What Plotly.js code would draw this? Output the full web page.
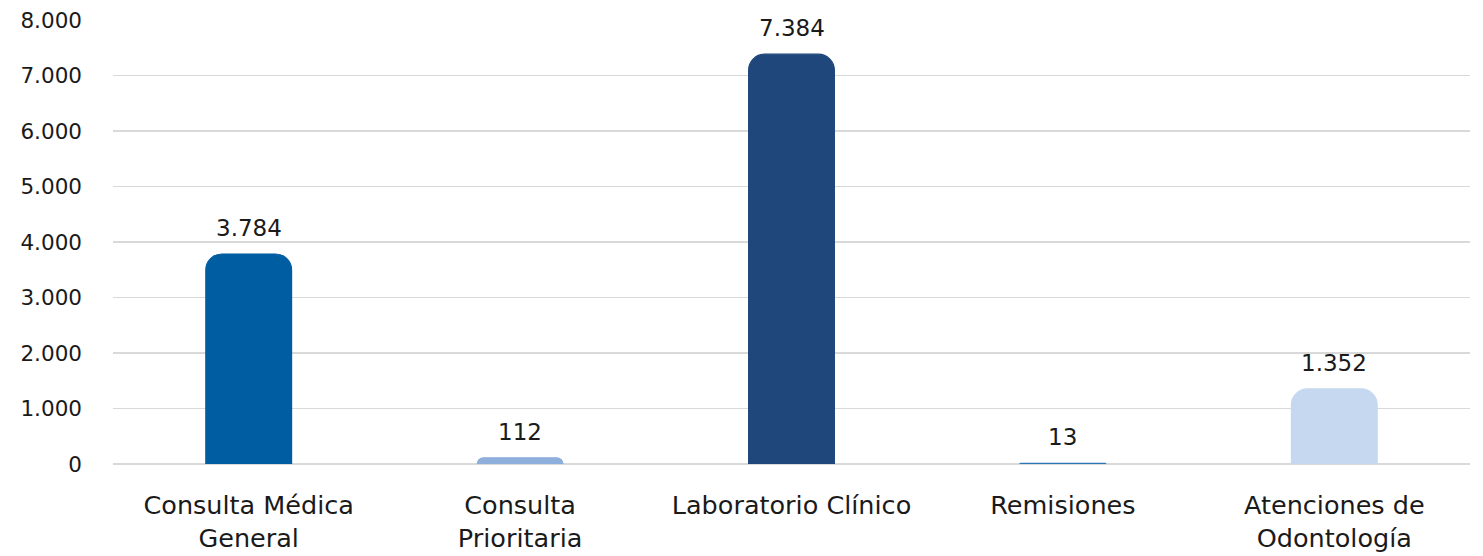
<!DOCTYPE html>
<html>
<head>
<meta charset="utf-8">
<script src="https://cdn.plot.ly/plotly-3.0.1.min.js"></script>
<style>html,body{margin:0;padding:0;background:#fff;}#chart{width:1483px;height:556px;}</style>
</head>
<body>
<div id="chart"></div>
<script>
const categories = ["Consulta Médica<br>General", "Consulta<br>Prioritaria", "Laboratorio Clínico", "Remisiones", "Atenciones de<br>Odontología"];
const values = [3784, 112, 7384, 13, 1352];
const barColors = ["#005DA2", "#8EAEDB", "#1F477B", "#2E75B6", "#C6D8F0"];
const yTickValues = [0, 1000, 2000, 3000, 4000, 5000, 6000, 7000, 8000];

const FONT = "DejaVu Sans, sans-serif";

const trace = {
  type: "bar",
  x: categories,
  y: values,
  marker: { color: barColors, cornerradius: 16, line: { color: barColors, width: 1.2 } },
  hoverinfo: "none"
};

const valueLabels = categories.map((c, i) => ({
  x: c, y: values[i], xref: "x", yref: "y",
  text: values[i].toLocaleString("de-DE"),
  showarrow: false, yanchor: "bottom", yshift: 11,
  font: { family: FONT, size: 23, color: "#1a1a1a" }
}));

const layout = {
  width: 1483, height: 556,
  margin: { l: 113, r: 13, t: 20, b: 92 },
  paper_bgcolor: "#fff", plot_bgcolor: "#fff",
  separators: ",.",
  bargap: 0.684,
  showlegend: false,
  font: { family: FONT, size: 22, color: "#1a1a1a" },
  annotations: valueLabels,
  xaxis: {
    type: "category",
    tickfont: { family: FONT, size: 25.5, color: "#1a1a1a" },
    showline: false, showgrid: false, ticks: "", ticklabelstandoff: 23
  },
  yaxis: {
    range: [0, 8000],
    tickvals: yTickValues,
    tickformat: ",",
    tickfont: { family: FONT, size: 21.5, color: "#1a1a1a" },
    gridcolor: "#D9D9D9", gridwidth: 1.3,
    zeroline: true, zerolinecolor: "#D9D9D9", zerolinewidth: 1.3,
    showline: false, ticks: "", ticklabelstandoff: 30
  }
};

Plotly.newPlot("chart", [trace], layout, { staticPlot: true, displayModeBar: false });
</script>
</body>
</html>
